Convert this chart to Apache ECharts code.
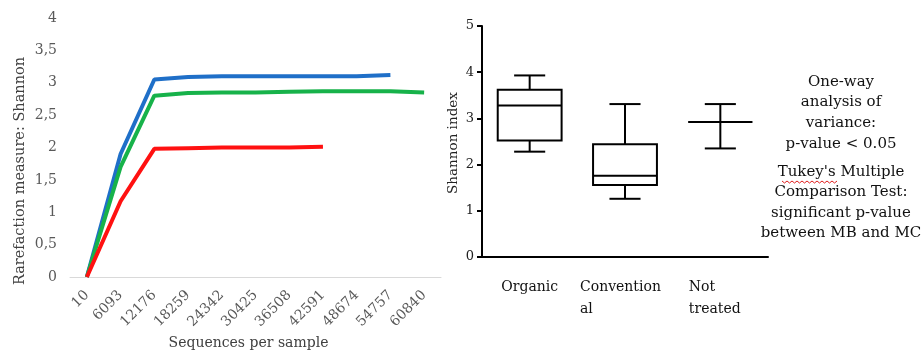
<!DOCTYPE html>
<html>
<head>
<meta charset="utf-8">
<script src="https://cdn.jsdelivr.net/npm/echarts@6/dist/echarts.min.js"></script>
<style>
  html, body { margin: 0; padding: 0; background: #fff; }
  #chart { width: 921px; height: 352px; }
</style>
</head>
<body>
<div id="chart"></div>
<script>
// Rarefaction curves (left panel)
const depthLabels = ['10', '6093', '12176', '18259', '24342', '30425', '36508', '42591', '48674', '54757', '60840'];
const blueCurve  = [0, 1.90, 3.05, 3.09, 3.10, 3.10, 3.10, 3.10, 3.10, 3.12, null];
const greenCurve = [0, 1.70, 2.80, 2.84, 2.85, 2.85, 2.86, 2.87, 2.87, 2.87, 2.85];
const redCurve   = [0, 1.17, 1.98, 1.99, 2.00, 2.00, 2.00, 2.01, null, null, null];
const shannonTicks = [0, 0.5, 1, 1.5, 2, 2.5, 3, 3.5, 4];

// Shannon index box plots (right panel)
const groupLabels = ['Organic', 'Convention\nal', 'Not\ntreated'];
const boxMin    = [2.28, 1.26, 2.35];
const boxQ1     = [2.52, 1.56, 2.92];
const boxMedian = [3.28, 1.76, 2.92];
const boxQ3     = [3.62, 2.44, 2.92];
const boxMax    = [3.93, 3.31, 3.31];

const anovaLines = ['One-way', 'analysis of', 'variance:', 'p-value < 0.05'];
const tukeyLines = ["Tukey's Multiple", 'Comparison Test:', 'significant p-value', 'between MB and MC'];

const serif = "'DejaVu Serif', 'Noto Serif', 'Times New Roman', Times, serif";

const boxData = groupLabels.map((_, i) => [i, boxMin[i], boxQ1[i], boxMedian[i], boxQ3[i], boxMax[i]]);

function renderBox(params, api) {
  const i = api.value(0);
  const pMin = api.coord([i, api.value(1)]);
  const pQ1 = api.coord([i, api.value(2)]);
  const pMed = api.coord([i, api.value(3)]);
  const pQ3 = api.coord([i, api.value(4)]);
  const pMax = api.coord([i, api.value(5)]);
  const band = api.size([1, 0])[0];
  const half = band * 0.335;
  const cap = band * 0.163;
  const cx = pMed[0];
  const st = { stroke: '#000', lineWidth: 2, fill: null };
  const line = (x1, y1, x2, y2) => ({ type: 'line', shape: { x1, y1, x2, y2 }, style: st });
  return {
    type: 'group',
    children: [
      { type: 'rect', shape: { x: cx - half, y: pQ3[1], width: half * 2, height: pQ1[1] - pQ3[1] }, style: st },
      line(cx - half, pMed[1], cx + half, pMed[1]),
      line(cx, pQ3[1], cx, pMax[1]),
      line(cx, pQ1[1], cx, pMin[1]),
      line(cx - cap, pMax[1], cx + cap, pMax[1]),
      line(cx - cap, pMin[1], cx + cap, pMin[1])
    ]
  };
}

// wavy spell-check underline beneath "Tukey's"
const wavePts = [];
for (let k = 0; k <= 22; k++) {
  wavePts.push([782 + k * 2.5, 181 + (k % 2 === 0 ? 0 : 2)]);
}

const textStyle = (t) => ({ text: t, fontFamily: serif, fontSize: 15, fill: '#111', align: 'center', verticalAlign: 'middle' });
const textGraphics = [];
anovaLines.forEach((t, k) => {
  textGraphics.push({ type: 'text', x: 841, y: 82 + k * 20.6, style: textStyle(t) });
});
tukeyLines.forEach((t, k) => {
  textGraphics.push({ type: 'text', x: 841, y: 172 + k * 20.5, style: textStyle(t) });
});

const chart = echarts.init(document.getElementById('chart'), null, { renderer: 'canvas' });
chart.setOption({
  animation: false,
  backgroundColor: '#fff',
  textStyle: { fontFamily: serif },
  grid: [
    { left: 70, right: 480, top: 18, bottom: 75, outerBoundsMode: 'none', containLabel: false },
    { left: 482, right: 153, top: 26, bottom: 95, outerBoundsMode: 'none', containLabel: false }
  ],
  xAxis: [
    {
      type: 'category', gridIndex: 0, data: depthLabels, boundaryGap: true,
      axisLine: { lineStyle: { color: '#d9d9d9', width: 1 } },
      axisTick: { show: false },
      axisLabel: { rotate: 45, margin: 16, fontFamily: serif, fontSize: 14, color: '#595959', interval: 0 },
      name: 'Sequences per sample', nameLocation: 'middle', nameGap: 58,
      nameTextStyle: { fontFamily: serif, fontSize: 14, color: '#404040', padding: [0, 14, 0, 0] }
    },
    {
      type: 'category', gridIndex: 1, data: groupLabels, boundaryGap: true,
      axisLine: { lineStyle: { color: '#000', width: 2 } },
      axisTick: { alignWithLabel: true, length: 7, lineStyle: { color: '#000', width: 2 } },
      axisLabel: {
        margin: 19, interval: 0, fontFamily: serif, fontSize: 14, color: '#111', lineHeight: 22,
        formatter: (v) => {
          if (v.indexOf('Convention') === 0) return v.split('\n').map(l => '{c|' + l + '}').join('\n');
          if (v.indexOf('Not') === 0) return v.split('\n').map(l => '{n|' + l + '}').join('\n');
          return v;
        },
        rich: {
          c: { width: 90, align: 'left', fontFamily: serif, fontSize: 14, color: '#111', lineHeight: 22 },
          n: { width: 63, align: 'left', fontFamily: serif, fontSize: 14, color: '#111', lineHeight: 22 }
        }
      }
    }
  ],
  yAxis: [
    {
      type: 'value', gridIndex: 0, min: 0, max: 4, interval: 0.5,
      axisLine: { show: false }, axisTick: { show: false }, splitLine: { show: false },
      axisLabel: {
        margin: 13, fontFamily: serif, fontSize: 14, color: '#595959',
        customValues: shannonTicks,
        formatter: (v) => String(v).replace('.', ',')
      }
    },
    {
      type: 'value', gridIndex: 1, min: 0, max: 5, interval: 1,
      axisLine: { show: true, lineStyle: { color: '#000', width: 2 } },
      axisTick: { show: true, inside: false, length: 5, lineStyle: { color: '#000', width: 2 } },
      splitLine: { show: false },
      axisLabel: { margin: 8, fontFamily: serif, fontSize: 13, color: '#222' }
    }
  ],
  series: [
    { type: 'line', xAxisIndex: 0, yAxisIndex: 0, data: blueCurve, showSymbol: false, lineStyle: { color: '#1f6fc8', width: 4 }, itemStyle: { color: '#1f6fc8' } },
    { type: 'line', xAxisIndex: 0, yAxisIndex: 0, data: greenCurve, showSymbol: false, lineStyle: { color: '#17b24a', width: 4 }, itemStyle: { color: '#17b24a' } },
    { type: 'line', xAxisIndex: 0, yAxisIndex: 0, data: redCurve, showSymbol: false, lineStyle: { color: '#ff1111', width: 4 }, itemStyle: { color: '#ff1111' } },
    { type: 'custom', xAxisIndex: 1, yAxisIndex: 1, data: boxData, renderItem: renderBox, encode: { x: 0, y: [1, 2, 3, 4, 5] }, z: 3 }
  ],
  graphic: [
    { type: 'text', x: 20, y: 171, rotation: Math.PI / 2, style: { text: 'Rarefaction measure: Shannon', fontFamily: serif, fontSize: 14.5, fill: '#404040', align: 'center', verticalAlign: 'middle' } },
    { type: 'text', x: 453, y: 143, rotation: Math.PI / 2, style: { text: 'Shannon index', fontFamily: serif, fontSize: 13.5, fill: '#222', align: 'center', verticalAlign: 'middle' } },
    ...textGraphics,
    { type: 'polyline', shape: { points: wavePts }, style: { stroke: '#e02020', lineWidth: 1, fill: null }, z: 10 }
  ]
});
</script>
</body>
</html>
